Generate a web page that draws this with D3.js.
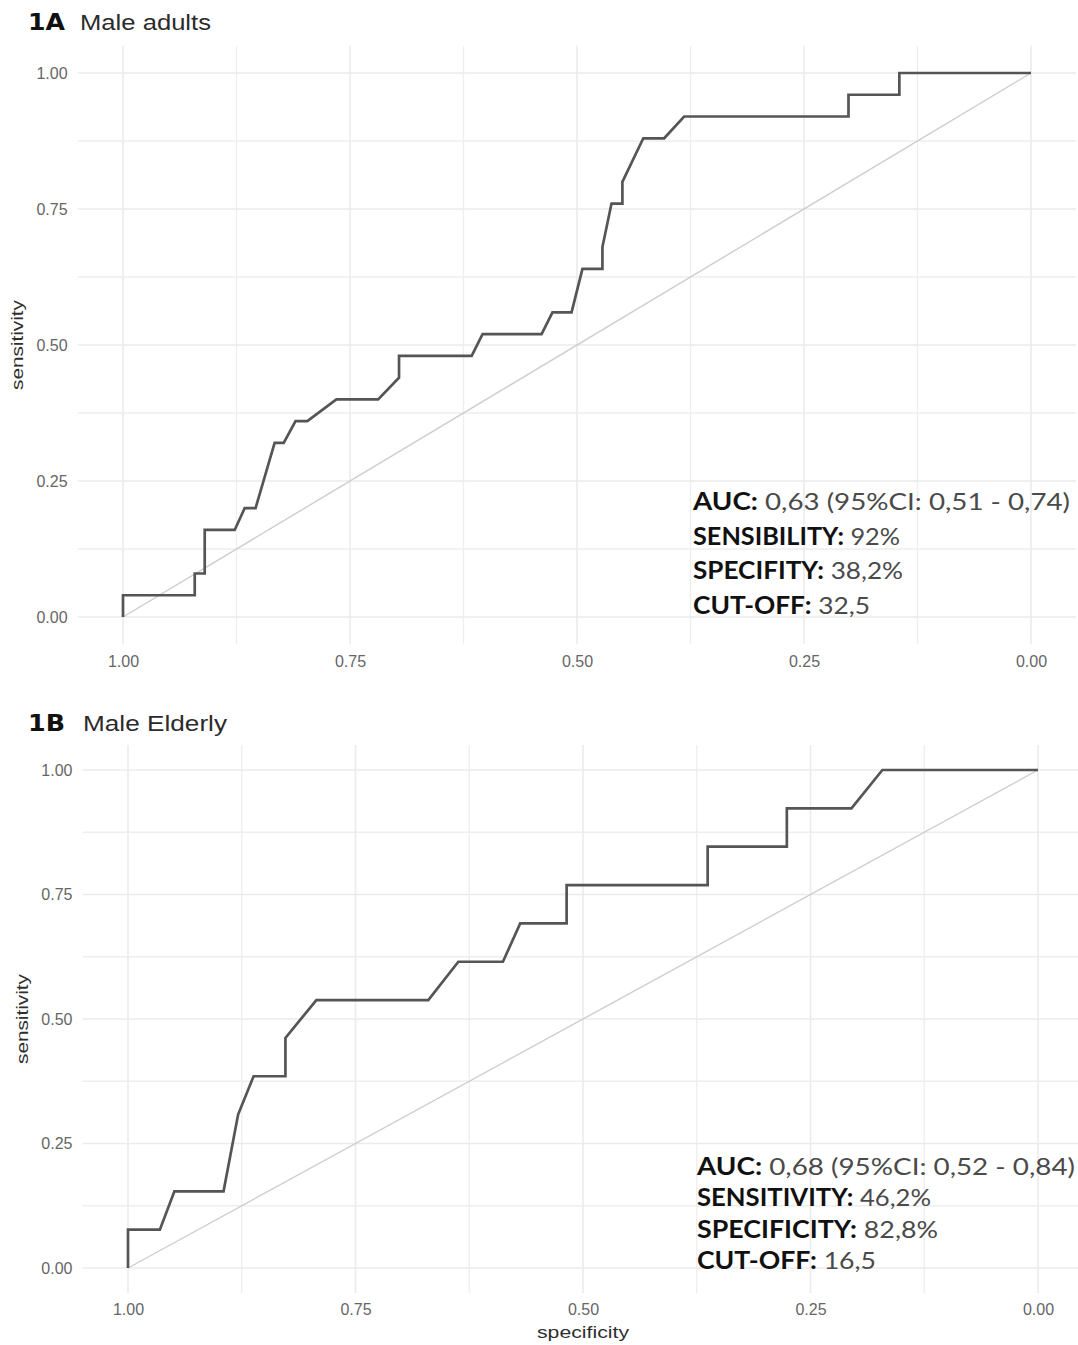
<!DOCTYPE html>
<html lang="en">
<head>
  <meta charset="UTF-8">
  <title>ROC curves - male adults and elderly</title>
  <script src="https://d3js.org/d3.v7.min.js"></script>
  <style>
    body { margin: 0; background: #fff; }
    .tick-label { font-family: "Liberation Sans", Arial, sans-serif; font-size: 16px; fill: #666; }
    .axis-title { font-family: "Liberation Sans", Arial, sans-serif; font-size: 17px; fill: #2e2e2e; }
    .panel-tag { font-family: "DejaVu Sans", sans-serif; font-weight: bold; font-size: 23px; fill: #111; }
    .panel-name { font-family: "Liberation Sans", Arial, sans-serif; font-size: 22px; fill: #2b2b2b; }
    .stats { font-family: Lato, "DejaVu Sans", sans-serif; font-size: 24px; }
    .stats .key { font-weight: bold; fill: #111; }
    .stats .val { fill: #4a4a4a; }
  </style>
</head>
<body>
<div id="chart"></div>
<script>
// ROC curve for panel A (male adults) - specificity / sensitivity pairs
const specA = [1.00, 1.00, 0.921, 0.921, 0.910, 0.910, 0.877, 0.866, 0.854, 0.833, 0.823, 0.810, 0.797, 0.765,
               0.719, 0.696, 0.696, 0.616, 0.604, 0.539, 0.527, 0.506, 0.494, 0.472, 0.472, 0.462, 0.450, 0.450,
               0.427, 0.404, 0.382, 0.201, 0.201, 0.145, 0.145, 0.00];
const sensA = [0.00, 0.04, 0.04, 0.08, 0.08, 0.16, 0.16, 0.20, 0.20, 0.32, 0.32, 0.36, 0.36, 0.40,
               0.40, 0.44, 0.48, 0.48, 0.52, 0.52, 0.56, 0.56, 0.64, 0.64, 0.68, 0.76, 0.76, 0.80,
               0.88, 0.88, 0.92, 0.92, 0.96, 0.96, 1.00, 1.00];

// ROC curve for panel B (male elderly)
const specB = [1.00, 1.00, 0.965, 0.949, 0.895, 0.879, 0.862, 0.827, 0.827, 0.793, 0.670, 0.637, 0.588,
               0.569, 0.518, 0.518, 0.363, 0.363, 0.276, 0.276, 0.205, 0.171, 0.00];
const sensB = [0.000, 0.077, 0.077, 0.154, 0.154, 0.308, 0.385, 0.385, 0.462, 0.538, 0.538, 0.615, 0.615,
               0.692, 0.692, 0.769, 0.769, 0.846, 0.846, 0.923, 0.923, 1.000, 1.000];

const majorTicks = [0, 0.25, 0.5, 0.75, 1];
const minorTicks = [0.125, 0.375, 0.625, 0.875];

const titlesTag = ["1A", "1B"];
const titlesName = ["Male adults", "Male Elderly"];

const statsA = [["AUC:", " 0,63 (95%CI: 0,51 - 0,74)"], ["SENSIBILITY:", " 92%"], ["SPECIFITY:", " 38,2%"], ["CUT-OFF:", " 32,5"]];
const statsB = [["AUC:", " 0,68 (95%CI: 0,52 - 0,84)"], ["SENSITIVITY:", " 46,2%"], ["SPECIFICITY:", " 82,8%"], ["CUT-OFF:", " 16,5"]];

const W = 1078, H = 1345;
const svg = d3.select("#chart").append("svg").attr("width", W).attr("height", H);

const panels = [
  { tag: titlesTag[0], name: titlesName[0], nameLen: 131, spec: specA, sens: sensA, stats: statsA,
    left: 123, right: 1031, top: 73, bottom: 617, titleY: 30, statsX: 693, statsY: 510, statsGap: 34.5,
    statsLens: [377, 207, 210, 177], xTitle: false },
  { tag: titlesTag[1], name: titlesName[1], nameLen: 144, spec: specB, sens: sensB, stats: statsB,
    left: 128, right: 1038, top: 770, bottom: 1268, titleY: 731, statsX: 697, statsY: 1175, statsGap: 31.3,
    statsLens: [378, 234, 241, 179], xTitle: true }
];

panels.forEach(p => {
  const x = d3.scaleLinear().domain([1, 0]).range([p.left, p.right]);
  const y = d3.scaleLinear().domain([0, 1]).range([p.bottom, p.top]);
  const g = svg.append("g");
  const xL = x(1.05), xR = x(-0.05), yT = y(1.05), yB = y(-0.05);

  // grid
  g.selectAll(".gx-minor").data(minorTicks).join("line")
    .attr("x1", d => x(d)).attr("x2", d => x(d)).attr("y1", yT).attr("y2", yB)
    .attr("stroke", "#eeeeee").attr("stroke-width", 1.3);
  g.selectAll(".gy-minor").data(minorTicks).join("line")
    .attr("y1", d => y(d)).attr("y2", d => y(d)).attr("x1", xL).attr("x2", xR)
    .attr("stroke", "#eeeeee").attr("stroke-width", 1.3);
  g.selectAll(".gx-major").data(majorTicks).join("line")
    .attr("x1", d => x(d)).attr("x2", d => x(d)).attr("y1", yT).attr("y2", yB)
    .attr("stroke", "#ebebeb").attr("stroke-width", 1.6);
  g.selectAll(".gy-major").data(majorTicks).join("line")
    .attr("y1", d => y(d)).attr("y2", d => y(d)).attr("x1", xL).attr("x2", xR)
    .attr("stroke", "#ebebeb").attr("stroke-width", 1.6);

  // chance diagonal
  g.append("line")
    .attr("x1", x(1)).attr("y1", y(0)).attr("x2", x(0)).attr("y2", y(1))
    .attr("stroke", "#cdcdcd").attr("stroke-width", 1.4);

  // ROC curve
  const pts = p.spec.map((s, i) => [s, p.sens[i]]);
  g.append("path")
    .datum(pts)
    .attr("fill", "none")
    .attr("stroke", "#555")
    .attr("stroke-width", 2.7)
    .attr("d", d3.line().x(d => x(d[0])).y(d => y(d[1])));

  // axes (labels only, like theme_minimal)
  const fmt = d3.format(".2f");
  const ax = g.append("g").attr("transform", `translate(0,${yB})`)
    .call(d3.axisBottom(x).tickValues(majorTicks).tickFormat(fmt).tickSize(0).tickPadding(11));
  const ay = g.append("g").attr("transform", `translate(${xL},0)`)
    .call(d3.axisLeft(y).tickValues(majorTicks).tickFormat(fmt).tickSize(0).tickPadding(10));
  [ax, ay].forEach(a => {
    a.select(".domain").remove();
    a.selectAll("text").attr("class", "tick-label").attr("font-size", null).attr("font-family", null).attr("fill", null);
  });

  // axis titles
  g.append("text").attr("class", "axis-title")
    .attr("transform", `translate(${xL - 55},${y(0.5)}) rotate(-90)`)
    .attr("text-anchor", "middle")
    .attr("textLength", 90).attr("lengthAdjust", "spacingAndGlyphs")
    .text("sensitivity");
  if (p.xTitle) {
    g.append("text").attr("class", "axis-title")
      .attr("x", x(0.5)).attr("y", yB + 45)
      .attr("text-anchor", "middle")
      .attr("textLength", 92).attr("lengthAdjust", "spacingAndGlyphs")
      .text("specificity");
  }

  // panel title
  g.append("text").attr("class", "panel-tag").attr("x", 28).attr("y", p.titleY)
    .attr("textLength", 37).attr("lengthAdjust", "spacingAndGlyphs").text(p.tag);
  g.append("text").attr("class", "panel-name").attr("x", p.tag === "1A" ? 80 : 83).attr("y", p.titleY)
    .attr("textLength", p.nameLen).attr("lengthAdjust", "spacingAndGlyphs").text(p.name);

  // stats block
  p.stats.forEach((row, i) => {
    const t = g.append("text").attr("class", "stats")
      .attr("x", p.statsX).attr("y", p.statsY + i * p.statsGap)
      .attr("textLength", p.statsLens[i]).attr("lengthAdjust", "spacingAndGlyphs");
    t.append("tspan").attr("class", "key").text(row[0]);
    t.append("tspan").attr("class", "val").text(row[1]);
  });
});
</script>
</body>
</html>
